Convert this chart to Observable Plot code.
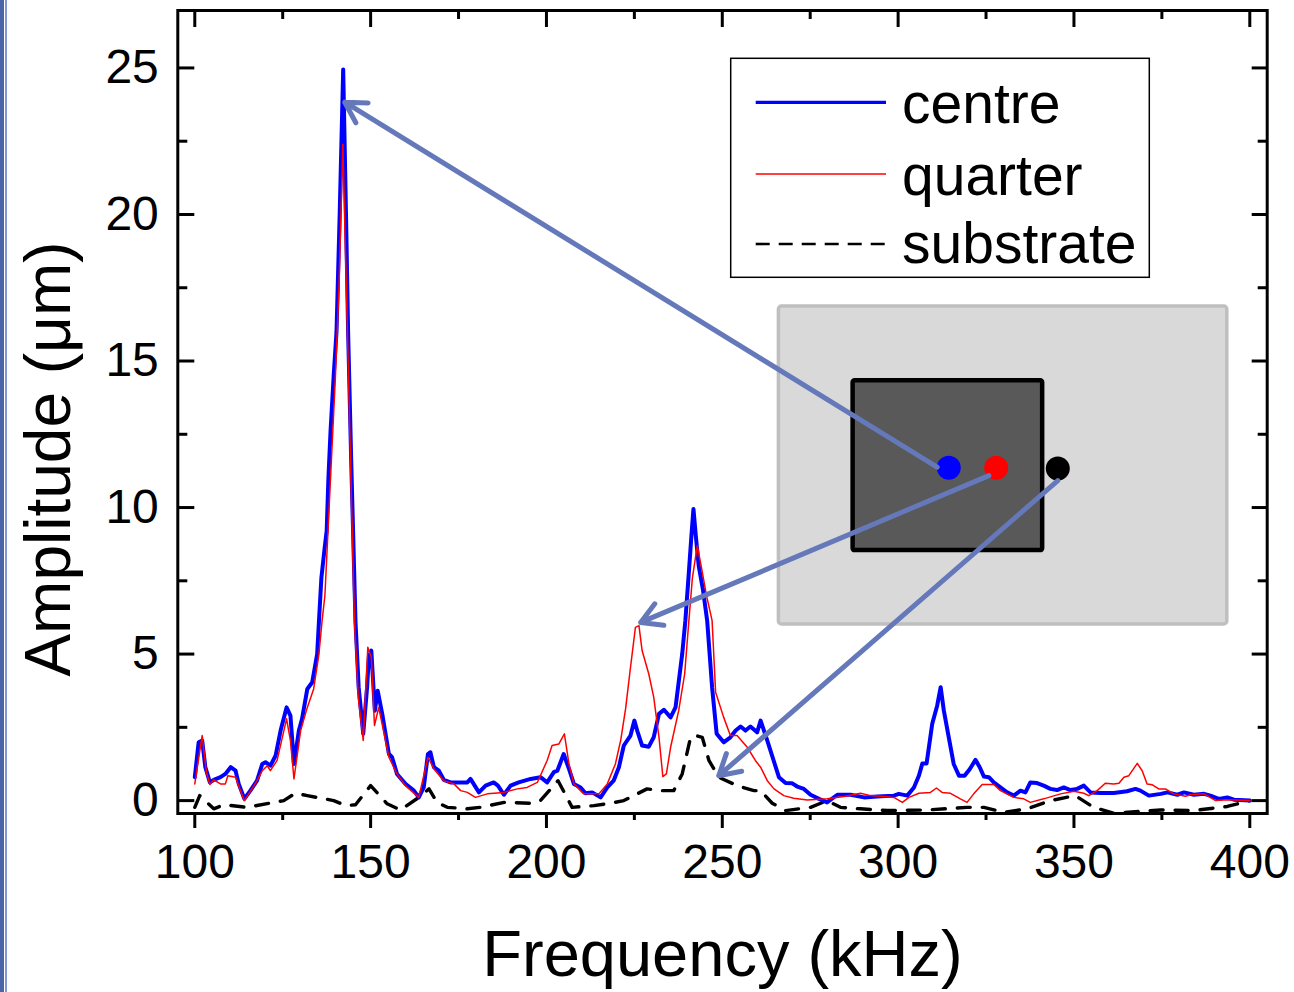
<!DOCTYPE html>
<html><head><meta charset="utf-8">
<script src="https://cdn.jsdelivr.net/npm/d3@7"></script>
<script src="https://cdn.jsdelivr.net/npm/@observablehq/plot@0.6"></script>
<style>
html,body{margin:0;padding:0;background:#fff;}
#wrap{position:relative;width:1294px;height:992px;overflow:hidden;}
#wrap svg{position:absolute;left:0;top:0;}
.edge1{position:absolute;left:0;top:0;width:4px;height:992px;background:#4866a8;z-index:2;}
.edge2{position:absolute;left:5px;top:0;width:2px;height:992px;background:#809bd3;z-index:2;}
</style></head><body><div id="wrap"><div class="edge1"></div><div class="edge2"></div></div>
<script>
// ---- data ----
const centreFreq = [100,101.1,102.1,103.0,104.3,105.4,107.3,108.7,110.2,111.6,112.5,114.1,115.8,117.7,119.2,120.1,121.5,123.0,124.4,126.1,127.2,128.2,129.6,130.5,132.0,133.4,134.8,135.3,136.0,137.0,137.5,138.0,138.6,139.5,140.3,141.2,142.2,143.0,143.6,144.5,145.7,146.6,147.9,149.0,149.5,150.2,151.2,152.0,153.3,155.2,156.1,157.5,159.9,162.3,163.7,165.1,166.3,167.0,168.0,169.4,170.8,172.7,175.6,177.5,178.4,180.8,182.7,185.0,186.2,187.9,189.8,192.1,195.5,198.3,200.2,202.1,203.1,204.9,206.4,207.8,209.7,211.1,213.0,215.4,217.3,219.1,220.6,222.0,223.9,225.0,225.8,227.2,229.1,230.5,232.0,233.4,235.3,236.7,238.6,239.5,240.5,241.2,241.8,242.5,243.3,244.5,245.7,247.1,248.4,250.4,252.3,253.8,255.2,256.6,258.0,259.9,260.9,262.8,266.1,268.0,269.9,271.3,273.2,275.1,277.5,279.8,282.7,286.5,290.3,294.1,298.8,300.2,302.6,304.5,305.9,306.9,308.1,309.7,311.1,312.1,313.0,314.4,315.8,317.3,318.9,320.4,322.0,323.2,324.4,325.8,327.2,329.1,331.0,332.9,334.8,336.2,337.6,339.5,341.4,343.3,345.2,347.1,349.0,350.9,352.8,354.7,357.6,361.3,365.1,367.5,368.9,371.3,374.7,376.6,379.4,381.3,384.1,387.0,388.8,391.2,393.6,395.5,400];
const centreAmp = [0.80,1.99,2.05,1.14,0.62,0.71,0.80,0.91,1.14,1.02,0.57,0.06,0.34,0.68,1.25,1.31,1.19,1.54,2.39,3.18,2.90,1.25,2.39,2.79,3.81,4.04,5.0,6.1,7.6,8.7,9.2,11.0,12.6,14.5,16.0,20.0,24.95,20.0,16.0,11.5,6.1,3.87,2.28,3.87,4.89,5.12,3.07,3.75,2.96,1.59,1.48,0.91,0.57,0.34,0.11,0.45,1.59,1.65,1.14,1.02,0.71,0.62,0.62,0.62,0.74,0.28,0.51,0.62,0.51,0.20,0.51,0.62,0.74,0.80,0.62,0.97,1.02,1.59,1.08,0.57,0.45,0.25,0.28,0.11,0.45,0.68,1.14,1.88,2.22,2.73,2.39,1.88,1.84,2.16,2.96,3.10,2.84,3.18,5.0,6.14,7.8,9.0,9.95,9.0,8.0,7.2,6.14,3.87,2.28,1.99,2.16,2.39,2.53,2.39,2.53,2.33,2.73,2.05,0.80,0.60,0.59,0.48,0.40,0.20,0.06,-0.06,0.20,0.20,0.11,0.14,0.17,0.23,0.17,0.45,0.85,1.27,1.27,2.62,3.24,3.87,3.07,2.16,1.25,0.85,0.85,1.08,1.39,1.14,0.82,0.80,0.62,0.45,0.28,0.17,0.34,0.28,0.62,0.60,0.51,0.40,0.36,0.45,0.36,0.40,0.51,0.28,0.26,0.26,0.32,0.40,0.34,0.17,0.23,0.28,0.20,0.28,0.20,0.23,0.17,0.06,0.11,0.03,0.0];

const quarterFreq = [100,102.1,103.3,104.3,105.4,107.3,108.7,109.4,111.6,113.0,114.1,117.7,119.2,120.6,121.5,123.4,126.1,127.2,128.2,130.1,132.0,133.8,135.3,136.2,137.0,138.0,139.0,140.0,141.0,142.1,143.0,143.6,144.5,145.4,146.5,147.9,149.2,150.2,151.1,152.3,155.2,157.5,159.9,163.7,166.3,168.0,170.8,173.7,175.6,177.5,179.8,183.2,187.9,191.7,194.5,197.4,200.2,201.6,203.5,205.1,206.4,207.8,210.6,214.9,217.3,219.6,221.1,222.5,223.9,225.3,226.3,227.2,229.1,230.5,232.0,233.1,234.1,235.3,237.6,239.3,240.5,241.5,242.9,244.0,245.5,247.1,248.1,250.4,252.3,254.2,257.1,259.4,260.9,262.8,264.7,267.5,270.3,274.2,279.8,284.6,289.3,292.2,296.0,298.8,301.2,303.1,305.9,309.2,310.9,312.5,314.9,317.7,319.6,321.5,323.9,327.2,329.1,332.9,335.7,337.6,341.4,346.2,350.0,352.8,354.2,356.6,358.9,361.3,362.8,364.2,365.6,368.0,369.4,370.8,372.3,374.1,376.0,378.4,381.7,383.2,387.0,390.3,393.6,400];
const quarterAmp = [0.57,2.22,0.97,0.55,0.71,0.57,0.57,0.85,0.80,0.34,0.0,0.68,1.02,1.19,1.02,1.37,2.79,2.05,0.74,2.39,3.18,3.81,5.0,6.14,7.0,9.5,12.0,14.5,17.5,22.4,18.0,15.0,10.5,6.14,3.5,2.05,5.23,4.89,2.56,3.18,1.48,0.91,0.51,0.11,1.48,1.08,0.68,0.57,0.34,0.28,0.11,0.23,0.28,0.40,0.45,0.62,1.37,1.88,1.93,2.28,1.25,0.57,0.23,0.23,0.57,1.25,2.05,3.13,4.55,5.91,5.97,5.12,4.32,3.53,2.16,0.82,0.91,1.82,3.07,4.32,6.14,7.6,8.7,8.0,7.0,6.14,3.70,2.84,2.22,2.22,1.82,1.37,1.14,0.68,0.40,0.17,0.08,0.02,0.06,0.14,0.25,0.17,0.14,0.11,-0.06,0.11,0.25,0.28,0.43,0.28,0.25,0.06,-0.06,0.23,0.55,0.55,0.34,0.11,0.06,-0.06,0.06,0.23,0.32,0.25,0.17,0.34,0.59,0.57,0.59,0.80,0.85,1.27,1.02,0.57,0.54,0.40,0.40,0.23,0.15,0.20,0.23,0.0,0.03,0.0];

const substrateFreq = [100,101.4,105.4,108.3,114.9,125.3,128.6,132.0,139.5,142.9,145.7,150.0,154.7,158.5,163.7,166.6,168.9,171.8,177.5,181.2,188.0,195.5,198.3,203.3,207.3,213.5,218.2,222.0,228.6,232.4,236.2,238.6,241.0,242.4,244.3,246.2,249.0,254.2,259.0,260.9,264.2,268.0,275.1,279.8,283.6,289.3,296.9,308.3,319.6,324.4,330.1,336.7,343.3,350.4,355.6,361.3,374.7,384.1,393.6,400];
const substrateAmp = [-0.23,0.17,-0.28,-0.14,-0.23,0.0,0.25,0.17,0.0,-0.17,-0.14,0.51,-0.11,-0.32,0.11,0.40,-0.06,-0.23,-0.28,-0.23,-0.06,-0.09,0.0,0.68,-0.23,-0.17,-0.09,0.0,0.40,0.34,0.34,0.91,2.16,2.22,2.16,1.37,0.80,0.51,0.34,0.34,-0.09,-0.34,-0.23,0.0,-0.23,-0.28,-0.34,-0.32,-0.23,-0.23,-0.40,-0.28,0.0,0.17,-0.23,-0.43,-0.32,-0.34,-0.2,0.0];

const seriesNames = ["centre", "quarter", "substrate"];
const seriesColors = ["#0000ff", "#ff0000", "#000000"];

const xTicks = [100, 150, 200, 250, 300, 350, 400];
const xMinorTicks = [125, 175, 225, 275, 325, 375];
const yTicks = [0, 5, 10, 15, 20, 25];
const yMinorTicks = [2.5, 7.5, 12.5, 17.5, 22.5];

const xTitle = "Frequency (kHz)";
const yTitle = "Amplitude (\u03bcm)";

// inset sketch (sample with probe positions), in data units
const insetSample = [{x1: 266.1, x2: 393.6, y1: 6.01, y2: 16.86}];
const insetFilm = [{x1: 287.2, x2: 341.1, y1: 8.53, y2: 14.33}];
const probeX = [314.4, 327.9, 345.4];
const probeY = [11.36, 11.36, 11.33];
const arrowFrom = [[311.1, 11.38], [325.8, 11.09], [345.4, 10.92]];
const arrowTo = [[142.65, 23.83], [226.8, 6.08], [249.0, 0.85]];

// ---- build tables ----
const toRows = (fs, as) => fs.map((f, i) => ({f, a: as[i]}));
const centre = toRows(centreFreq, centreAmp);
const quarter = toRows(quarterFreq, quarterAmp);
const substrate = toRows(substrateFreq, substrateAmp);
const arrows = arrowFrom.map((p, i) => ({x1: p[0], y1: p[1], x2: arrowTo[i][0], y2: arrowTo[i][1]}));
const probes = probeX.map((x, i) => ({x, y: probeY[i]}));

const font = "'Liberation Sans', Arial, Helvetica, sans-serif";

const chart = Plot.plot({
  width: 1294, height: 992,
  marginLeft: 177.3, marginRight: 27.3, marginTop: 10, marginBottom: 179,
  x: {domain: [95.17, 404.95], label: null},
  y: {domain: [-0.44, 26.96], label: null},
  style: {fontFamily: font, fontSize: "48px", color: "black", background: "white"},
  marks: [
    Plot.line(substrate, {x: "f", y: "a", stroke: seriesColors[2], strokeWidth: 3.4, strokeDasharray: "13,12"}),
    Plot.line(centre, {x: "f", y: "a", stroke: seriesColors[0], strokeWidth: 4, strokeLinejoin: "round"}),
    Plot.line(quarter, {x: "f", y: "a", stroke: seriesColors[1], strokeWidth: 1.5, strokeLinejoin: "round"}),
    Plot.rect(insetSample, {x1: "x1", x2: "x2", y1: "y1", y2: "y2", fill: "#d9d9d9", stroke: "#bfbfbf", strokeWidth: 3.5, rx: 3}),
    Plot.rect(insetFilm, {x1: "x1", x2: "x2", y1: "y1", y2: "y2", fill: "#595959", stroke: "#000000", strokeWidth: 4.5, rx: 2}),
    Plot.dot(probes.slice(0, 1), {x: "x", y: "y", r: 12, fill: seriesColors[0], stroke: null}),
    Plot.dot(probes.slice(1, 2), {x: "x", y: "y", r: 12, fill: seriesColors[1], stroke: null}),
    Plot.dot(probes.slice(2, 3), {x: "x", y: "y", r: 12, fill: seriesColors[2], stroke: null}),
    Plot.arrow(arrows, {x1: "x1", y1: "y1", x2: "x2", y2: "y2", stroke: "#6579ba", strokeWidth: 5, headLength: 7, headAngle: 60}),
    Plot.frame({stroke: "black", strokeWidth: 3}),
    // bottom axis: labels + outward ticks
    Plot.axisX({anchor: "bottom", ticks: xTicks, tickSize: 0, tickPadding: 30, fontSize: 48, label: null, tickFormat: d => d}),
    Plot.axisX({anchor: "bottom", ticks: xTicks, tickSize: 15, strokeWidth: 3, fill: "none"}),
    Plot.axisX({anchor: "bottom", ticks: xMinorTicks, tickSize: 7, strokeWidth: 3, fill: "none"}),
    // top axis: inward ticks
    Plot.axisX({anchor: "top", ticks: xTicks, tickSize: -16, strokeWidth: 3, fill: "none"}),
    Plot.axisX({anchor: "top", ticks: xMinorTicks, tickSize: -8, strokeWidth: 3, fill: "none"}),
    // left axis: labels + inward ticks
    Plot.axisY({anchor: "left", ticks: yTicks, tickSize: 0, tickPadding: 19, fontSize: 48, label: null, tickFormat: d => d}),
    Plot.axisY({anchor: "left", ticks: yTicks, tickSize: -17, strokeWidth: 3, fill: "none"}),
    Plot.axisY({anchor: "left", ticks: yMinorTicks, tickSize: -10, strokeWidth: 3, fill: "none"}),
    // right axis: inward ticks
    Plot.axisY({anchor: "right", ticks: yTicks, tickSize: -16, strokeWidth: 3, fill: "none"}),
    Plot.axisY({anchor: "right", ticks: yMinorTicks, tickSize: -10, strokeWidth: 3, fill: "none"}),
    // axis titles
    Plot.text([xTitle], {text: d => d, frameAnchor: "bottom", dy: 142, textAnchor: "middle", lineAnchor: "middle", fontSize: 65, fill: "black"}),
    Plot.text([yTitle], {text: d => d, frameAnchor: "left", rotate: -90, dx: -128, dy: 47, textAnchor: "middle", lineAnchor: "middle", fontSize: 64, fill: "black"})
  ]
});

const wrap = document.getElementById("wrap");
wrap.insertBefore(chart, wrap.firstChild);

// ---- legend (drawn into the plot's svg) ----
const svg = d3.select(chart);
const legend = {x: 730.7, y: 58.3, w: 418.6, h: 219};
const rowLineY = [102.3, 174, 244];
const rowBase = [123, 195, 263];
const rowWidth = [3.2, 1.5, 2.6];
const rowDash = [null, null, "14,9"];
const lg = svg.append("g").attr("font-family", font).attr("font-size", 57).attr("text-anchor", "start");
lg.append("rect").attr("x", legend.x).attr("y", legend.y).attr("width", legend.w).attr("height", legend.h)
  .attr("fill", "white").attr("stroke", "black").attr("stroke-width", 1.5);
seriesNames.forEach((name, i) => {
  const line = lg.append("line").attr("x1", 755.7).attr("x2", 886).attr("y1", rowLineY[i]).attr("y2", rowLineY[i])
    .attr("stroke", seriesColors[i]).attr("stroke-width", rowWidth[i]);
  if (rowDash[i]) line.attr("stroke-dasharray", rowDash[i]);
  lg.append("text").attr("x", 902).attr("y", rowBase[i]).attr("fill", "black").attr("text-anchor", "start").text(name);
});
</script>
</body></html>
